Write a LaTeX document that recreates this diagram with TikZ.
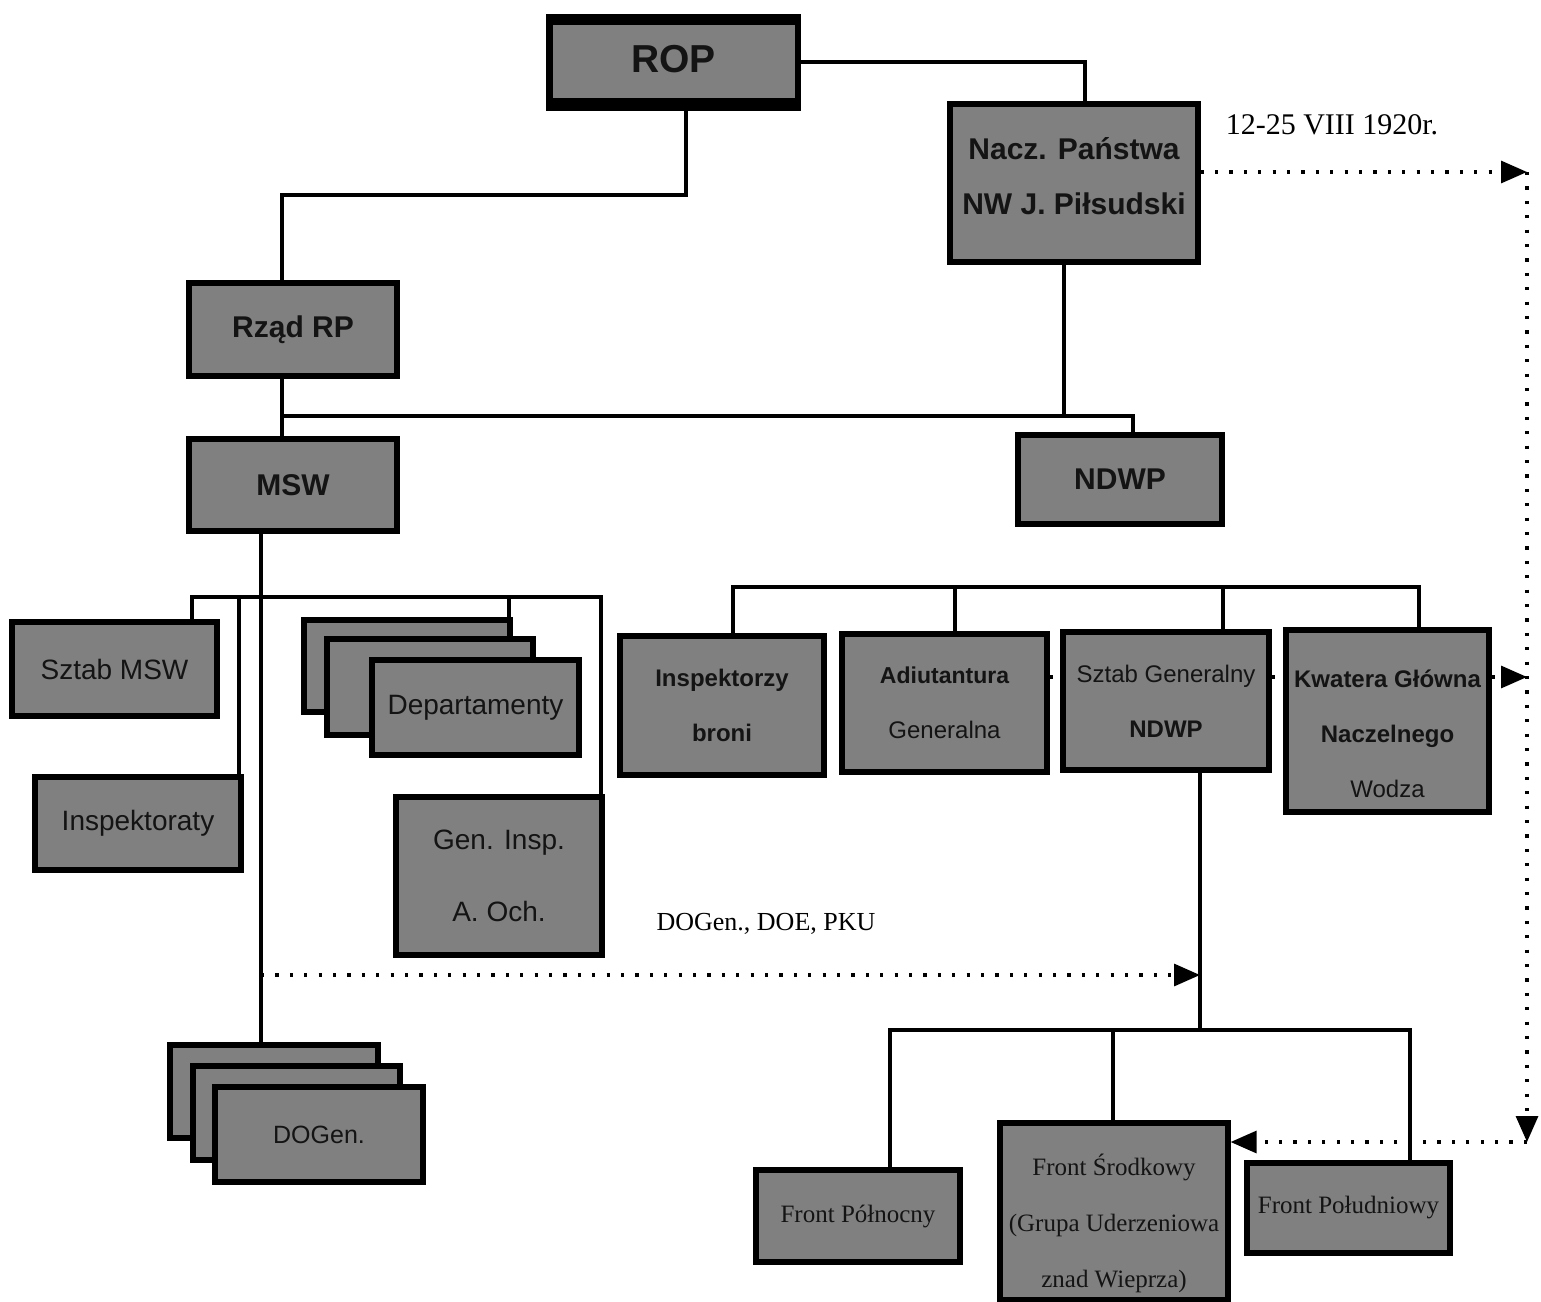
\documentclass[tikz,border=0pt]{standalone}
\usepackage{fontspec}
\setmainfont{Liberation Serif}
\newfontfamily\arial{Liberation Sans}
\usetikzlibrary{arrows.meta,calc}
\definecolor{boxgray}{RGB}{128,128,128}
\definecolor{ink}{RGB}{20,20,20}
\begin{document}
\begin{tikzpicture}[x=0.5pt,y=-0.5pt,
  box/.style={draw=black, line width=2.6pt, fill=boxgray, inner sep=0pt, text=ink, align=center},
  conn/.style={line width=2pt, black},
  dotline/.style={line width=1.6pt, dash pattern=on 1.6pt off 5.6pt},
  dotarrow/.style={dotline, -{Triangle[length=13pt,width=11pt]}},
  sbig/.style={font=\arial\bfseries\fontsize{15}{27.5}\selectfont},
  sreg/.style={font=\arial\fontsize{14}{27.5}\selectfont},
  ssmall/.style={font=\arial\fontsize{12}{27.5}\selectfont},
  serf/.style={font=\fontsize{12.5}{28}\selectfont}]
\useasboundingbox (0,0) rectangle (1541,1301);

% ---------- top level ----------
\node[fill=black, minimum width=127.5pt, minimum height=48.5pt, inner sep=0pt] (rop) at (673.5,62.5) {};
\fill[boxgray] ($(rop.north west)+(7,11)$) rectangle ($(rop.south east)+(-6,-13)$);
\node[font=\arial\bfseries\fontsize{19.5}{22}\selectfont, text=ink] (roptext) at ($(rop.center)+(0,-3)$) {ROP};

\node[box, minimum width=124pt, minimum height=79pt] (nacz) at (1074,183) {};
\node[sbig, text=ink, align=center, inner sep=0pt] (nacztext) at ($(nacz.center)+(0,-7)$)
  {Nacz. Państwa\\NW J. Piłsudski};
\node[box, sbig, minimum width=104pt, minimum height=46.5pt] (rzad) at (293,329.5) {Rząd RP};
\node[box, sbig, minimum width=104pt, minimum height=46pt] (msw) at (293,485) {MSW};
\node[box, sbig, minimum width=102pt, minimum height=44.5pt] (ndwp) at (1120,479.5) {NDWP};

% ---------- MSW subordinates ----------
\node[box, sreg, minimum width=102.5pt, minimum height=47pt] (sztabmsw) at (114.5,669) {Sztab MSW};
\node[box, sreg, minimum width=103pt, minimum height=46.5pt] (inspt) at (138,823.5) {Inspektoraty};
\node[box, minimum width=103pt, minimum height=46pt] (depA) at (407,666) {};
\node[box, minimum width=103pt, minimum height=48pt] (depB) at (430,687) {};
\node[box, sreg, minimum width=103.5pt, minimum height=47.5pt] (depC) at (475.5,707.5) {Departamenty};
\node[box, font=\arial\fontsize{14}{36}\selectfont, minimum width=103pt, minimum height=79pt] (geninsp) at (499,876)
  {Gen. Insp.\\A. Och.};
\node[box, minimum width=104pt, minimum height=46.5pt] (dogA) at (274,1091.5) {};
\node[box, minimum width=103.5pt, minimum height=47pt] (dogB) at (296.5,1113) {};
\node[box, font=\arial\fontsize{12.5}{15}\selectfont, minimum width=104pt, minimum height=47.5pt] (dogC) at (319,1134.5) {DOGen.};

% ---------- NDWP subordinates ----------
\node[box, font=\arial\bfseries\fontsize{12}{27.5}\selectfont, minimum width=102pt, minimum height=69.5pt] (inspz) at (722,705.5)
  {Inspektorzy\\broni};
\node[box, ssmall, minimum width=102.5pt, minimum height=69pt] (adiut) at (944.5,703)
  {{\bfseries\fontsize{11.5}{27.5}\selectfont Adiutantura}\\Generalna};
\node[box, ssmall, minimum width=103pt, minimum height=69pt] (sztabgen) at (1166,701)
  {Sztab Generalny\\{\bfseries NDWP}};
\node[box, minimum width=101.5pt, minimum height=91pt] (kwat) at (1387.5,721) {};
\node[ssmall, text=ink, align=center, inner sep=0pt] (kwattext) at ($(kwat.center)+(0,13)$)
  {{\bfseries Kwatera Główna}\\{\bfseries Naczelnego}\\Wodza};

% ---------- fronts ----------
\node[box, serf, minimum width=102pt, minimum height=46pt] (fpn) at (858,1216) {Front Północny};
\node[box, minimum width=114pt, minimum height=88.5pt] (fsr) at (1114,1211.5) {};
\node[serf, text=ink, align=center, inner sep=0pt] (fsrtext) at ($(fsr.center)+(0,12)$)
  {Front Środkowy\\(Grupa Uderzeniowa\\znad Wieprza)};
\node[box, serf, minimum width=101.5pt, minimum height=45pt] (fpd) at (1348.5,1208) {Front Południowy};

% ---------- labels ----------
\node[font=\fontsize{15}{18}\selectfont, inner sep=0pt] (lbldate) at (1332,125) {12-25 VIII 1920r.};
\node[font=\fontsize{13}{16}\selectfont, inner sep=0pt] (lbldoe) at (766,924) {DOGen., DOE, PKU};

% ---------- coordinates ----------
\coordinate (ropOut) at (686,111);
\coordinate (ropBend) at (686,195);
\coordinate (rzadX) at (282,195);
\coordinate (naczIn) at (1085,62);
\coordinate (busA) at (282,416);
\coordinate (naczOut) at (1064,416);
\coordinate (ndwpIn) at (1133,416);
\coordinate (mswOut) at (261,531);
\coordinate (b1L) at (192,597);
\coordinate (b1I) at (239,597);
\coordinate (b1D) at (509,597);
\coordinate (b1R) at (601,597);
\coordinate (b2A) at (733,587);
\coordinate (b2B) at (955,587);
\coordinate (b2C) at (1223,587);
\coordinate (b2D) at (1419,587);
\coordinate (sgOut) at (1200,770);
\coordinate (b3A) at (890,1030);
\coordinate (b3B) at (1113,1030);
\coordinate (b3C) at (1410,1030);
\coordinate (b3M) at (1200,1030);
\coordinate (rTop) at (1527,172);
\coordinate (rMid) at (1527,677);
\coordinate (rBot) at (1527,1142);
\coordinate (dA) at (261,975);

% ---------- connectors ----------
\draw[conn] (rop.east |- naczIn) -| (naczIn |- nacz.north);
\draw[conn] (ropOut |- rop.south) -- (ropBend) -| (rzadX |- rzad.north);
\draw[conn] (rzadX |- rzad.south) -- (rzadX |- msw.north);
\draw[conn] (busA) -| (ndwpIn |- ndwp.north);
\draw[conn] (naczOut |- nacz.south) -- (naczOut);
\draw[conn] (mswOut |- msw.south) -- (mswOut |- dogA.north);
\draw[conn] (b1L |- sztabmsw.north) -- (b1L) -- (b1R) -- (b1R |- geninsp.north);
\draw[conn] (b1I) -- (b1I |- inspt.north);
\draw[conn] (b1D) -- (b1D |- depA.north);
\draw[conn] (b2A |- inspz.north) -- (b2A) -- (b2D) -- (b2D |- kwat.north);
\draw[conn] (b2B) -- (b2B |- adiut.north);
\draw[conn] (b2C) -- (b2C |- sztabgen.north);
\draw[conn] (sgOut |- sztabgen.south) -- (b3M);
\draw[conn] (b3A |- fpn.north) -- (b3A) -- (b3C) -- (b3C |- fpd.north);
\draw[conn] (b3B) -- (b3B |- fsr.north);

% ---------- dotted arrows ----------
\draw[dotarrow] (nacz.east |- rTop) -- (rTop);
\draw[dotarrow] (rTop) -- (rBot);
\draw[dotarrow] (rBot) -- (fsr.east |- rBot);
\draw[dotline] (adiut.east |- rMid) -- (sztabgen.west |- rMid);
\draw[dotline] (sztabgen.east |- rMid) -- (kwat.west |- rMid);
\draw[dotarrow] (kwat.east |- rMid) -- (rMid);
\draw[dotarrow] (dA) -- (sgOut |- dA);
\end{tikzpicture}
\end{document}
